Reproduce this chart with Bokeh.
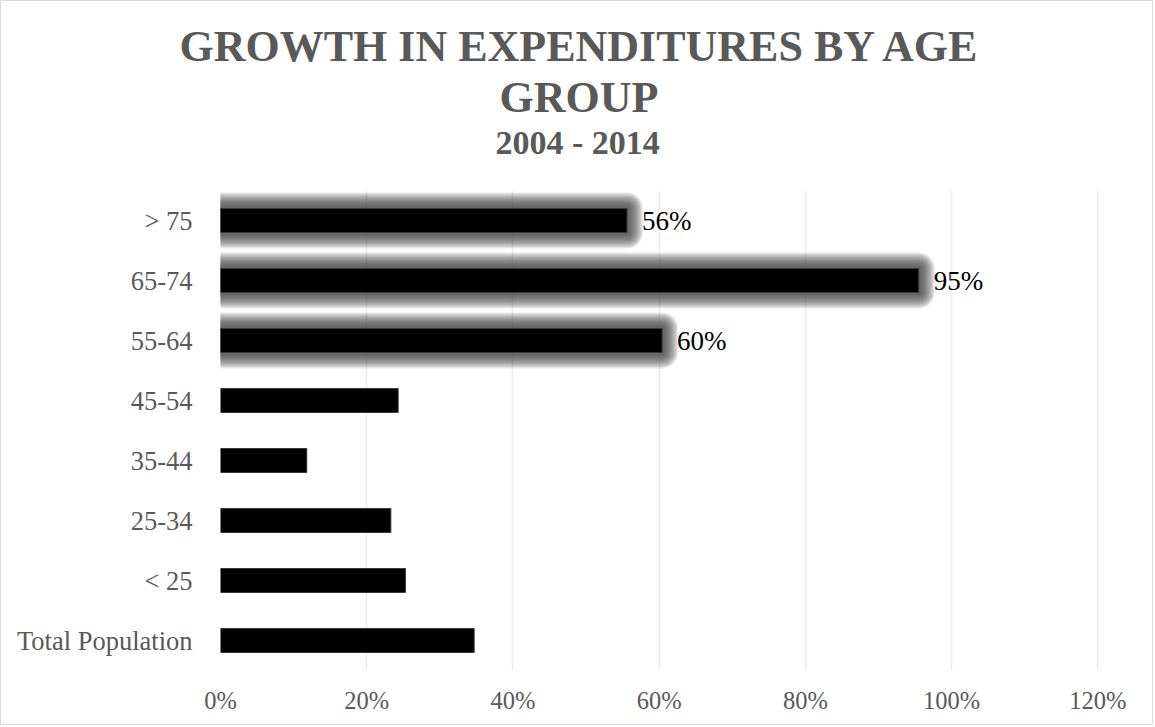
from bokeh.plotting import figure
from bokeh.models import (ColumnDataSource, FactorRange, Range1d, FixedTicker,
                          NumeralTickFormatter, LabelSet, Title)
from bokeh.embed import file_html
from bokeh.resources import INLINE

# ---- data ----
categories = ["Total Population", "< 25", "25-34", "35-44", "45-54", "55-64", "65-74", "> 75"]
growth = [0.347, 0.253, 0.233, 0.118, 0.243, 0.604, 0.955, 0.556]
highlighted = [False, False, False, False, False, True, True, True]
value_labels = ["", "", "", "", "", "60%", "95%", "56%"]
x_ticks = [0, 0.2, 0.4, 0.6, 0.8, 1.0, 1.2]
title_line1 = "GROWTH IN EXPENDITURES BY AGE"
title_line2 = "GROUP"
subtitle = "2004 - 2014"

W, H = 1153, 725
p = figure(width=W, height=H, y_range=FactorRange(factors=categories, range_padding=0),
           x_range=Range1d(0, 1.205), output_backend="svg", toolbar_location=None,
           min_border_left=219, min_border_right=53, min_border_top=0, min_border_bottom=56)
p.styles = {"border": "1px solid #d9d9d9"}
p.outline_line_color = None
p.background_fill_color = "white"
p.border_fill_color = "white"

def spacer(h):
    return Title(text=" ", text_font_size="1px", standoff=h, text_color="white")

# titles stacked above the frame (first added is nearest the frame)
p.add_layout(spacer(27), "above")
for txt, size, off in [(subtitle, "34px", 275), (title_line2, "44px", 279),
                       (title_line1, "44px", -41)]:
    p.add_layout(Title(text=txt, align="left", offset=off, standoff=0,
                       text_font="Liberation Serif", text_font_style="bold",
                       text_font_size=size, text_color="#595959"), "above")
p.add_layout(spacer(15), "above")

src = ColumnDataSource(dict(cat=categories, val=growth, lab=value_labels))
hl = [i for i, h in enumerate(highlighted) if h]
glow = ColumnDataSource(dict(cat=[categories[i] for i in hl], val=[growth[i] for i in hl]))

# soft glow behind highlighted bars
for lw in range(32, 3, -2):
    p.hbar(y="cat", right="val", left=0, height=0.4, source=glow,
           fill_color=None, line_color="#404040", line_alpha=0.1,
           line_width=lw, line_join="round")

p.hbar(y="cat", right="val", left=0, height=0.4, source=src,
       fill_color="black", line_color="#3a3a3a", line_width=1)

labels = LabelSet(x="val", y="cat", text="lab", source=src, x_offset=15, y_offset=0,
                  text_font="Liberation Serif", text_font_size="27px",
                  text_color="black", text_baseline="middle", text_align="left")
p.add_layout(labels)

p.xaxis.ticker = FixedTicker(ticks=x_ticks)
p.xaxis.formatter = NumeralTickFormatter(format="0%")
for ax in [p.xaxis[0], p.yaxis[0]]:
    ax.axis_line_color = None
    ax.major_tick_line_color = None
    ax.minor_tick_line_color = None
    ax.major_label_text_font = "Liberation Serif"
    ax.major_label_text_color = "#595959"
p.xaxis.major_label_text_font_size = "24.5px"
p.yaxis.major_label_text_font_size = "26.5px"
p.xaxis.major_label_standoff = 10
p.yaxis.major_label_standoff = 22

p.ygrid.grid_line_color = None
p.xgrid.grid_line_color = "#ebebeb"
p.xgrid.grid_line_width = 1.5

open("out.html", "w").write(file_html(p, INLINE))
